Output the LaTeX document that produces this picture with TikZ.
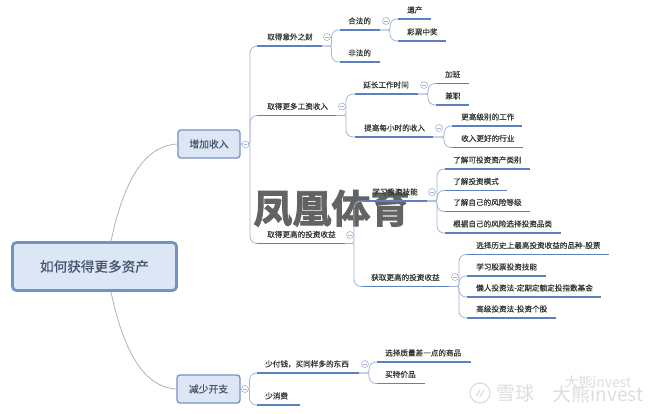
\documentclass[tikz,border=0pt]{standalone}
\usepackage{fontspec}
\setmainfont[FakeBold=0.15]{Noto Sans CJK SC}
\newfontfamily\wmfont[FakeBold=2.2]{Noto Sans CJK SC Bold}
\newfontfamily\rootfont[FakeBold=0.5]{Noto Sans CJK SC}
\newfontfamily\palefont{Noto Sans CJK SC}
\definecolor{uline}{HTML}{5B82BE}
\definecolor{conline}{HTML}{A3B5D0}
\definecolor{rootline}{HTML}{AEB4BE}
\definecolor{boxfill}{HTML}{DDE6F4}
\definecolor{boxline}{HTML}{7393C4}
\definecolor{txt}{HTML}{333333}
\definecolor{boxtxt}{HTML}{46556F}
\definecolor{wm}{HTML}{636363}
\tikzset{
  lbl/.style={anchor=base west,inner sep=0pt,text=txt,font=\fontsize{7.6}{9}\selectfont},
  under/.style={draw=uline,line width=1.7pt},
  conn/.style={draw=conline,line width=0.8pt,line cap=round},
  rootconn/.style={draw=rootline,line width=0.8pt},
  toggle/.style={circle,draw=conline,fill=white,line width=0.6pt,minimum size=7pt,inner sep=0pt},
  minus/.style={draw=conline,line width=0.5pt},
  mainbox/.style={draw=boxline,fill=boxfill,rounded corners=3pt,line width=1.3pt,inner sep=0pt,text=boxtxt,font=\fontsize{9.8}{12}\selectfont},
  rootbox/.style={draw=boxline,fill=boxfill,rounded corners=4pt,line width=2.8pt,inner sep=0pt,text=boxtxt,font=\rootfont\fontsize{13.6}{16}\selectfont},
  pale/.style={inner sep=0pt,text=black!13,font=\palefont}
}
% name, x1, x2, line y, text x, text
\newcommand{\topicitem}[6]{%
  \coordinate (#1-l) at (#2,#4);
  \coordinate (#1-r) at (#3,#4);
  \node[lbl] (#1) at (#5,#4-6.2) {#6};
}
\newcommand{\underl}[1]{\draw[under] (#1-l) -- (#1-r);}
% name, x, y
\newcommand{\togglemark}[3]{%
  \node[toggle] (#1) at (#2,#3) {};
  \draw[minus] ([xshift=-1.8pt]#1.center) -- ([xshift=1.8pt]#1.center);
}
% from, to, spine x
\newcommand{\branch}[3]{%
  \coordinate (spinex) at (#3,0);
  \draw[conn] (#1) [rounded corners=2pt] -- (#1 -| spinex) [rounded corners=7pt] -- (#2 -| spinex) -- (#2);
}
\begin{document}
\begin{tikzpicture}[x=1pt,y=-1pt]
\useasboundingbox (0,0) rectangle (660,414);
\fill[white] (0,0) rectangle (660,414);

% main boxes
\node[rootbox,minimum width=164pt,minimum height=48pt] (root) at (94.5,266.5) {如何获得更多资产};
\node[mainbox,minimum width=62pt,minimum height=28pt] (inc) at (209,144) {增加收入};
\node[mainbox,minimum width=63pt,minimum height=28pt] (dec) at (208.5,389) {减少开支};

% large overlay watermark
\node[inner sep=0pt,text=wm,font=\wmfont\fontsize{39}{44}\selectfont] (wmark) at (331.5,208) {凤凰体育};

% topics
\topicitem{a}{257}{322}{46}{267}{取得意外之财}
\topicitem{a1}{340}{380}{30}{348}{合法的}
\topicitem{a11}{398}{431}{19}{407}{遗产}
\topicitem{a12}{398}{446}{41}{407}{彩票中奖}
\topicitem{a2}{340}{380}{62}{348}{非法的}

\topicitem{b}{257}{336}{115.5}{267}{取得更多工资收入}
\topicitem{b1}{355}{418}{94}{363}{延长工作时间}
\topicitem{b11}{436}{469}{83.5}{445}{加班}
\topicitem{b12}{436}{469}{105}{445}{兼职}
\topicitem{b2}{355}{433}{137}{364}{提高每小时的收入}
\topicitem{b21}{452}{522}{126}{461}{更高级别的工作}
\topicitem{b22}{452}{523}{147.5}{461}{收入更好的行业}

\topicitem{c}{257}{345}{243.5}{267}{取得更高的投资收益}
\topicitem{c1}{363}{427}{201}{372}{学习投资技能}
\topicitem{c11}{445}{530}{169}{453}{了解可投资资产类别}
\topicitem{c12}{445}{507}{190.5}{453}{了解投资模式}
\topicitem{c13}{445}{530}{211.5}{453}{了解自己的风险等级}
\topicitem{c14}{445}{561}{233}{453}{根据自己的风险选择投资品类}
\topicitem{c2}{362}{449}{286.5}{371}{获取更高的投资收益}
\topicitem{c21}{467}{609}{254.5}{476}{选择历史上最高投资收益的品种-股票}
\topicitem{c22}{467}{546}{276}{476}{学习股票投资技能}
\topicitem{c23}{467}{601}{297}{476}{懒人投资法-定期定额定投指数基金}
\topicitem{c24}{467}{556}{318}{476}{高级投资法-投资个股}

\topicitem{d}{257}{359}{373}{265}{少付钱，买同样多的东西}
\topicitem{d1}{377}{471}{362}{385}{选择质量差一点的商品}
\topicitem{d2}{377}{425}{383.5}{385}{买特价品}
\topicitem{e}{257}{300}{405}{265}{少消费}

% root connectors
\coordinate (rootT) at (111,241);
\coordinate (rootB) at (111,292);
\draw[rootconn] (rootT) .. controls (122,190) and (140,146) .. (inc.west);
\draw[rootconn] (rootB) .. controls (122,343) and (140,387) .. (dec.west);

% tree connectors
\branch{inc.east}{a-l}{250}
\branch{inc.east}{b-l}{250}
\branch{inc.east}{c-l}{250}
\branch{dec.east}{d-l}{249.5}
\branch{dec.east}{e-l}{249.5}
\branch{a-r}{a1-l}{331.5}
\branch{a-r}{a2-l}{331.5}
\branch{a1-r}{a11-l}{390}
\branch{a1-r}{a12-l}{390}
\branch{b-r}{b1-l}{346}
\branch{b-r}{b2-l}{346}
\branch{b1-r}{b11-l}{428}
\branch{b1-r}{b12-l}{428}
\branch{b2-r}{b21-l}{444}
\branch{b2-r}{b22-l}{444}
\branch{c-r}{c1-l}{354}
\branch{c-r}{c2-l}{354}
\branch{c1-r}{c11-l}{437}
\branch{c1-r}{c12-l}{437}
\branch{c1-r}{c13-l}{437}
\branch{c1-r}{c14-l}{437}
\branch{c2-r}{c21-l}{459}
\branch{c2-r}{c22-l}{459}
\branch{c2-r}{c23-l}{459}
\branch{c2-r}{c24-l}{459}
\branch{d-r}{d1-l}{369}
\branch{d-r}{d2-l}{369}

% underlines, above the connectors
\foreach \n in {a,a1,a11,a12,a2,b,b1,b11,b12,b2,b21,b22,c,c1,c11,c12,c13,c14,c2,c21,c22,c23,c24,d,d1,d2,e}{\underl{\n}}

% toggles
\togglemark{ta}{327}{37}
\togglemark{ta1}{386}{21}
\togglemark{tb}{342}{106.5}
\togglemark{tb1}{424}{85}
\togglemark{tb2}{439}{128}
\togglemark{tc}{350}{235}
\togglemark{tc1}{432}{192}
\togglemark{tc2}{455}{277}
\togglemark{tinc}{245.5}{144.5}
\togglemark{tdec}{245}{389}
\togglemark{td}{365}{364}

% corner watermark
\node[circle,draw=black!13,line width=1.2pt,minimum size=20pt,inner sep=0pt] (logo) at (480,393) {};
\draw[draw=black!13,line width=1.2pt] ([shift={(-4,3)}]logo.center) -- ([shift={(0,-3)}]logo.center);
\draw[draw=black!13,line width=1.2pt] ([shift={(0,4)}]logo.center) -- ([shift={(4,-3)}]logo.center);
\node[pale,font=\palefont\fontsize{19}{22}\selectfont] (xq) at (515,393) {雪球};
\node[pale,font=\palefont\fontsize{14}{18}\selectfont] (wm1) at (598,382) {大熊invest};
\node[pale,font=\palefont\fontsize{19}{22}\selectfont] (wm2) at (598,394) {大熊invest};
\end{tikzpicture}
\end{document}
